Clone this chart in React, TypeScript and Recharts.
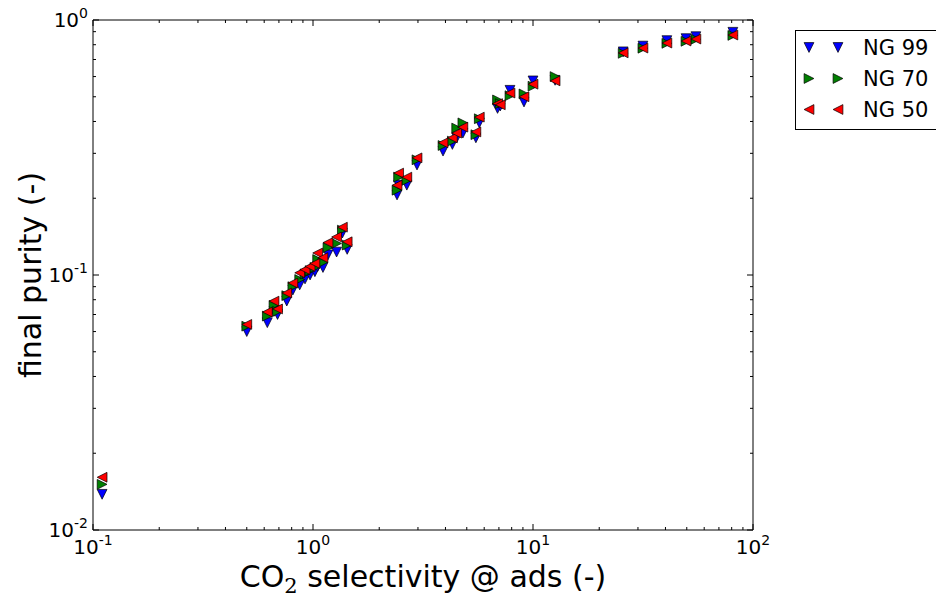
import React from "react";
import { ScatterChart, Scatter, XAxis, YAxis, Legend } from "recharts";

// CO2 selectivity at adsorption (x) and final purity per natural gas feed
const selectivity = [
  0.11, 0.5, 0.62, 0.665, 0.69, 0.76, 0.81, 0.87, 0.92, 0.97, 1.02, 1.05, 1.11,
  1.17, 1.28, 1.36, 1.43, 2.41, 2.45, 2.67, 2.97, 3.9, 4.3, 4.5, 4.8, 5.5, 5.7,
  6.9, 7.1, 7.86, 9.1, 10.0, 12.6, 25.7, 31.6, 40.6, 49.6, 55.0, 81.0,
];
const ng99 = [
  0.0138, 0.06, 0.065, 0.072, 0.07, 0.079, 0.0873, 0.0914, 0.0965, 0.1, 0.103,
  0.108, 0.107, 0.12, 0.123, 0.146, 0.126, 0.206, 0.225, 0.225, 0.27, 0.306,
  0.325, 0.345, 0.36, 0.345, 0.395, 0.45, 0.46, 0.53, 0.477, 0.577, 0.58, 0.75,
  0.79, 0.83, 0.845, 0.86, 0.895,
];
const ng70 = [
  0.0151, 0.063, 0.069, 0.076, 0.072, 0.083, 0.09, 0.096, 0.101, 0.104, 0.107,
  0.115, 0.112, 0.128, 0.133, 0.15, 0.131, 0.215, 0.242, 0.235, 0.283, 0.322,
  0.335, 0.377, 0.395, 0.355, 0.41, 0.486, 0.47, 0.505, 0.513, 0.55, 0.6, 0.74,
  0.775, 0.81, 0.825, 0.84, 0.87,
];
const ng50 = [
  0.0161, 0.064, 0.0716, 0.079, 0.0736, 0.085, 0.093, 0.102, 0.105, 0.108,
  0.111, 0.122, 0.117, 0.134, 0.141, 0.154, 0.135, 0.225, 0.251, 0.242, 0.288,
  0.33, 0.345, 0.36, 0.38, 0.364, 0.416, 0.47, 0.465, 0.517, 0.5, 0.56, 0.577,
  0.743, 0.776, 0.812, 0.827, 0.842, 0.873,
];

const xTicks = [
  0.1, 0.2, 0.3, 0.4, 0.5, 0.6, 0.7, 0.8, 0.9, 1, 2, 3, 4, 5, 6, 7, 8, 9, 10,
  20, 30, 40, 50, 60, 70, 80, 90, 100,
];
const yTicks = [
  0.01, 0.02, 0.03, 0.04, 0.05, 0.06, 0.07, 0.08, 0.09, 0.1, 0.2, 0.3, 0.4, 0.5,
  0.6, 0.7, 0.8, 0.9, 1,
];

const FONT = "DejaVu Sans";

const series = [
  { name: "NG 99", values: ng99, fill: "#0000ff", dir: "down" },
  { name: "NG 70", values: ng70, fill: "#008000", dir: "right" },
  { name: "NG 50", values: ng50, fill: "#ff0000", dir: "left" },
];

const Tri = ({ cx, cy, fill, dir }: any) => {
  const r = 4.9;
  let pts = "";
  if (dir === "down") pts = `${cx - r},${cy - r} ${cx + r},${cy - r} ${cx},${cy + r}`;
  if (dir === "right") pts = `${cx - r},${cy - r} ${cx + r},${cy} ${cx - r},${cy + r}`;
  if (dir === "left") pts = `${cx + r},${cy - r} ${cx - r},${cy} ${cx + r},${cy + r}`;
  return <polygon points={pts} fill={fill} stroke="#000" strokeWidth={0.7} />;
};

const isDecade = (v: number) =>
  Math.abs(Math.log10(v) - Math.round(Math.log10(v))) < 1e-9;

const makeTick = (side: string) => (props: any) => {
  const { x, y, payload } = props;
  const v = payload.value;
  const major = isDecade(v);
  const len = major ? 6 : 3;
  const exp = String(Math.round(Math.log10(v)));
  let line;
  if (side === "bottom") line = <line x1={x} y1={y} x2={x} y2={y - len} stroke="#000" />;
  else if (side === "top") line = <line x1={x} y1={y} x2={x} y2={y + len} stroke="#000" />;
  else if (side === "left") line = <line x1={x} y1={y} x2={x + len} y2={y} stroke="#000" />;
  else line = <line x1={x} y1={y} x2={x - len} y2={y} stroke="#000" />;

  let label = null;
  if (major && side === "bottom") {
    label = (
      <text x={x} y={y + 24} textAnchor="middle" fontSize={20} fontFamily={FONT} fill="#000">
        10
        <tspan dy={-9} fontSize={14}>{exp}</tspan>
      </text>
    );
  }
  if (major && side === "left") {
    label = (
      <text x={x - 5} y={y + 7} textAnchor="end" fontSize={20} fontFamily={FONT} fill="#000">
        10
        <tspan dy={-9} fontSize={14}>{exp}</tspan>
      </text>
    );
  }
  return (
    <g>
      {line}
      {label}
    </g>
  );
};

const XLabel = ({ viewBox }: any) => (
  <text
    x={viewBox.x + viewBox.width / 2}
    y={viewBox.y + 57}
    textAnchor="middle"
    fontSize={30}
    fontFamily={FONT}
    fill="#000"
  >
    CO
    <tspan dy={6} fontSize={21} fontFamily="DejaVu Serif">2</tspan>
    <tspan dy={-6}> selectivity @ ads (-)</tspan>
  </text>
);

const YLabel = ({ viewBox }: any) => {
  const x = viewBox.x + viewBox.width - 52;
  const y = viewBox.y + viewBox.height / 2;
  return (
    <text
      x={x}
      y={y}
      transform={`rotate(-90, ${x}, ${y})`}
      textAnchor="middle"
      fontSize={30}
      fontFamily={FONT}
      fill="#000"
    >
      final purity (-)
    </text>
  );
};

const LegendBox = () => (
  <div
    style={{
      border: "1px solid #000",
      background: "#fff",
      width: 160,
      height: 100,
      boxSizing: "border-box",
      position: "relative",
    }}
  >
    {series.map((s, i) => (
      <div
        key={s.name}
        style={{
          position: "absolute",
          top: 1 + i * 31,
          left: 0,
          height: 31,
          display: "flex",
          alignItems: "center",
        }}
      >
        <svg width={66} height={31} style={{ display: "block" }}>
          <Tri cx={13} cy={15.5} fill={s.fill} dir={s.dir} />
          <Tri cx={42} cy={15.5} fill={s.fill} dir={s.dir} />
        </svg>
        <span style={{ fontSize: 21, fontFamily: FONT, marginLeft: 1, color: "#000" }}>
          {s.name}
        </span>
      </div>
    ))}
  </div>
);

const axisCommon = {
  type: "number" as const,
  scale: "log" as const,
  allowDataOverflow: true,
  interval: 0 as const,
  tickSize: 0,
  tickMargin: 0,
  tickLine: false,
  axisLine: { stroke: "#000", strokeWidth: 1 },
};

export default function App() {
  return (
    <div
      style={{
        position: "absolute",
        left: 0,
        top: 0,
        width: 936,
        height: 599,
        overflow: "hidden",
        background: "#fff",
      }}
    >
      <ScatterChart
        width={936}
        height={599}
        margin={{ top: 19, right: 182, bottom: 68, left: 92 }}
      >
        <XAxis
          {...axisCommon}
          dataKey="x"
          domain={[0.1, 100]}
          ticks={xTicks}
          height={1}
          tick={makeTick("bottom")}
          label={{ content: XLabel }}
        />
        <XAxis
          {...axisCommon}
          xAxisId="top"
          orientation="top"
          dataKey="x"
          domain={[0.1, 100]}
          ticks={xTicks}
          height={1}
          tick={makeTick("top")}
        />
        <YAxis
          {...axisCommon}
          dataKey="y"
          domain={[0.01, 1]}
          ticks={yTicks}
          width={1}
          tick={makeTick("left")}
          label={{ content: YLabel }}
        />
        <YAxis
          {...axisCommon}
          yAxisId="right"
          orientation="right"
          dataKey="y"
          domain={[0.01, 1]}
          ticks={yTicks}
          width={1}
          tick={makeTick("right")}
        />
        {series.map((s) => (
          <Scatter
            key={s.name}
            name={s.name}
            data={selectivity.map((x, i) => ({ x, y: s.values[i] }))}
            fill={s.fill}
            isAnimationActive={false}
            shape={(p: any) => <Tri cx={p.cx} cy={p.cy} fill={s.fill} dir={s.dir} />}
          />
        ))}
        <Legend
          layout="vertical"
          align="center"
          verticalAlign="middle"
          wrapperStyle={{ left: 795, top: 30, width: 160, height: 100 }}
          content={() => <LegendBox />}
        />
      </ScatterChart>
    </div>
  );
}
